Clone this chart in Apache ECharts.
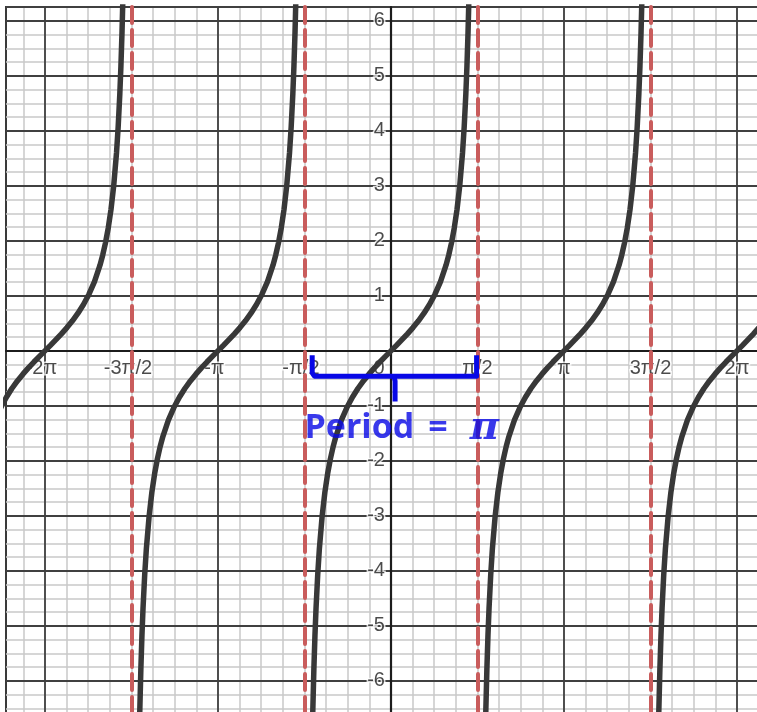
<!DOCTYPE html>
<html>
<head>
<meta charset="utf-8">
<script src="https://cdn.jsdelivr.net/npm/echarts@6/dist/echarts.min.js"></script>
<style>
  html, body { margin: 0; padding: 0; background: #fff; }
  #chart { width: 757px; height: 712px; }
</style>
</head>
<body>
<div id="chart"></div>
<script>
const PI = Math.PI;

// x tick positions (radians) and their labels
const xTickValues = [-2 * PI, -3 * PI / 2, -PI, -PI / 2, 0, PI / 2, PI, 3 * PI / 2, 2 * PI];
const xTickLabels = ['-2π', '-3π/2', '-π', '-π/2', '0', 'π/2', 'π', '3π/2', '2π'];
// y tick labels
const yTickValues = [-6, -5, -4, -3, -2, -1, 1, 2, 3, 4, 5, 6];
const yTickLabels = ['-6', '-5', '-4', '-3', '-2', '-1', '1', '2', '3', '4', '5', '6'];

// one branch of y = tan x, as offsets from the branch centre and heights
const branchOffsets = [-1.44, -1.42, -1.40, -1.38, -1.36, -1.33, -1.30, -1.25, -1.20, -1.15, -1.10, -1.05,
  -1.00, -0.90, -0.80, -0.70, -0.60, -0.50, -0.40, -0.30, -0.20, -0.10, 0,
  0.10, 0.20, 0.30, 0.40, 0.50, 0.60, 0.70, 0.80, 0.90, 1.00,
  1.05, 1.10, 1.15, 1.20, 1.25, 1.30, 1.33, 1.36, 1.38, 1.40, 1.42, 1.44];
const branchValues = [-7.602, -6.581, -5.798, -5.177, -4.673, -4.072, -3.602, -3.010, -2.572, -2.234, -1.965, -1.743,
  -1.557, -1.260, -1.030, -0.842, -0.684, -0.546, -0.423, -0.309, -0.203, -0.100, 0,
  0.100, 0.203, 0.309, 0.423, 0.546, 0.684, 0.842, 1.030, 1.260, 1.557,
  1.743, 1.965, 2.234, 2.572, 3.010, 3.602, 4.072, 4.673, 5.177, 5.798, 6.581, 7.602];
// centres of the branches shown
const branchCenters = [-2 * PI, -PI, 0, PI, 2 * PI];
// vertical asymptotes
const asymptotes = [-3 * PI / 2, -PI / 2, PI / 2, 3 * PI / 2];

// brace marking one period, in axis units
const braceBar = [[-1.43, -0.08], [-1.43, -0.40], [-1.39, -0.46], [1.555, -0.46], [1.555, -0.08]];
const braceTip = [[0.055, -0.46], [0.075, -0.55], [0.075, -0.92]];
const periodLabel = { anchor: [-1.57, -1.41], word: 'Period', eq: '=', symbol: 'π' };

// axis ranges
const xMin = -6.99, xMax = 7.355;
const yMin = -7, yMax = 6.25;

// grid line positions: minor every π/8, major every π
const xMinorLines = [];
for (let k = -17; k <= 18; k++) xMinorLines.push(k * PI / 8);
const xMajorLines = [];
for (let k = -2; k <= 2; k++) xMajorLines.push(k * PI);

const labelFont = { fontFamily: 'Liberation Sans, Arial, sans-serif', fontSize: 20, color: '#1e1e1e',
  textBorderColor: '#fff', textBorderWidth: 3 };
const blue = '#0808e6';

function xLabelText(p) {
  const s = xTickLabels[p.dataIndex];
  if (s === '0') return '{zero|0}';
  if (s.charAt(0) === '-') return '{neg|' + s + '}';
  return '{pos|' + s + '}';
}

const series = [];

// tick labels beside the axes
series.push({
  type: 'scatter',
  data: xTickValues.map(v => [v, 0]),
  symbolSize: 0,
  z: 2,
  silent: true,
  label: {
    show: true,
    position: 'bottom',
    distance: 8,
    formatter: xLabelText,
    rich: {
      pos: Object.assign({}, labelFont),
      neg: Object.assign({}, labelFont, { padding: [0, 7, 0, 0] }),
      zero: Object.assign({}, labelFont, { padding: [0, 24, 0, 0] })
    }
  }
});
series.push({
  type: 'scatter',
  data: yTickValues.map(v => [0, v]),
  symbolSize: 0,
  z: 2,
  silent: true,
  label: Object.assign({
    show: true,
    position: 'left',
    distance: 6,
    formatter: p => yTickLabels[p.dataIndex]
  }, labelFont)
});

// asymptotes
series.push({
  type: 'line',
  data: [],
  z: 3,
  silent: true,
  markLine: {
    silent: true,
    symbol: ['none', 'none'],
    label: { show: false },
    lineStyle: { color: '#c95c5c', width: 4, type: [16, 7], cap: 'round', opacity: 1 },
    emphasis: { disabled: true },
    data: asymptotes.map(a => ({ xAxis: a }))
  }
});

// branches of the curve
branchCenters.forEach(c => {
  series.push({
    type: 'line',
    data: branchOffsets.map((o, i) => [c + o, branchValues[i]]),
    showSymbol: false,
    lineStyle: { color: '#383838', width: 5.5 },
    z: 4,
    silent: true
  });
});

// period brace and caption
[braceBar, braceTip].forEach(path => {
  series.push({
    type: 'line',
    data: path,
    showSymbol: false,
    lineStyle: { color: blue, width: 5, join: 'round' },
    z: 6,
    silent: true
  });
});
series.push({
  type: 'scatter',
  data: [periodLabel.anchor],
  symbolSize: 0,
  z: 7,
  silent: true,
  label: {
    show: true,
    position: 'right',
    distance: 0,
    formatter: '{a|' + periodLabel.word + '}{e|' + periodLabel.eq + '}{b|' + periodLabel.symbol + '}',
    rich: {
      a: { fontFamily: 'Open Sans', fontWeight: 'bold', fontSize: 34, color: blue },
      e: { fontFamily: 'Open Sans', fontWeight: 'bold', fontSize: 34, color: blue, padding: [0, 0, 0, 14] },
      b: { fontFamily: 'DejaVu Serif', fontStyle: 'italic', fontWeight: 'bold', fontSize: 40, color: blue, padding: [0, 0, 0, 22] }
    }
  }
});

const option = {
  animation: false,
  backgroundColor: '#fff',
  grid: {
    left: 6, top: 7, width: 790, height: 729,
    containLabel: false,
    outerBoundsMode: 'none',
    show: true,
    backgroundColor: '#fff',
    borderColor: '#3a3a3a',
    borderWidth: 2
  },
  xAxis: [
    {
      type: 'value', min: xMin, max: xMax, position: 'bottom', z: 0,
      axisLine: { show: false }, axisLabel: { show: false },
      axisTick: { show: false, customValues: xMinorLines },
      splitLine: { show: true, lineStyle: { color: '#c8c8c8', width: 1.5 } }
    },
    {
      type: 'value', min: xMin, max: xMax, position: 'bottom', z: 1,
      axisLine: { show: true, onZero: true, lineStyle: { color: '#1c1c1c', width: 2.2 } },
      axisTick: { show: false, customValues: xMajorLines },
      axisLabel: { show: false },
      splitLine: { show: true, lineStyle: { color: '#404040', width: 1.8 } }
    }
  ],
  yAxis: [
    {
      type: 'value', min: yMin, max: yMax, interval: 0.25, position: 'left', z: 0,
      axisLine: { show: false }, axisLabel: { show: false }, axisTick: { show: false },
      splitLine: { show: true, lineStyle: { color: '#c8c8c8', width: 1.5 } }
    },
    {
      type: 'value', min: yMin, max: yMax, interval: 1, position: 'left', z: 1,
      axisLine: { show: true, onZero: true, lineStyle: { color: '#1c1c1c', width: 2.2 } },
      axisTick: { show: false },
      axisLabel: { show: false },
      splitLine: { show: true, lineStyle: { color: '#404040', width: 1.8 } }
    }
  ],
  series: series
};

const chart = echarts.init(document.getElementById('chart'), null, { renderer: 'canvas' });
chart.setOption(option);
</script>
</body>
</html>
